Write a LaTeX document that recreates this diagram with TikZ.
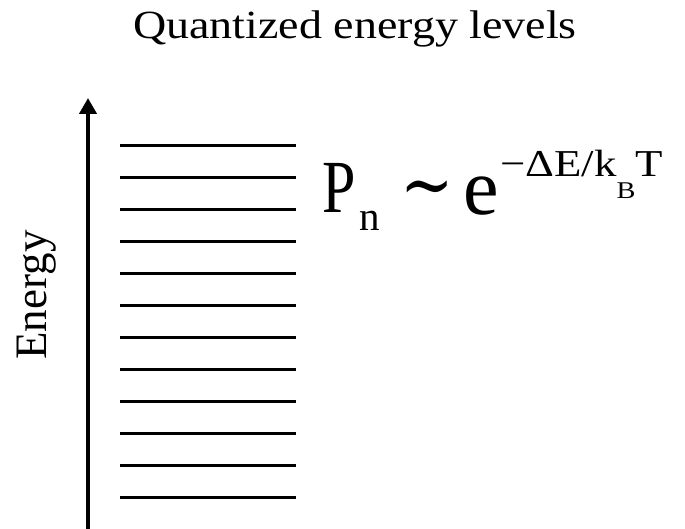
\documentclass[tikz,border=0pt]{standalone}
\usepackage{fontspec}
\setmainfont{Liberation Serif}
\newfontfamily\symfont{DejaVu Serif}
\usetikzlibrary{arrows.meta}
\begin{document}
\begin{tikzpicture}[x=1pt,y=1pt,
  level/.style={line width=3pt},
  big/.style={inner sep=0pt,anchor=base}]
\useasboundingbox (0,0) rectangle (685,529);
\node[big,xscale=1.15,font=\fontsize{40}{40}\selectfont] (title) at (355,490) {Quantized energy levels};
\coordinate (axisfoot) at (88,0);
\coordinate (axistip) at (88,431);
\draw[line width=4pt,-{Triangle[length=16pt,width=17pt]}] (axisfoot)--(axistip);
\node[big,rotate=90,font=\fontsize{45}{45}\selectfont] (energy) at (46,234) {Energy};
\foreach \k in {0,...,11}{
    \draw[level] (120,383-32*\k)--(296,383-32*\k);
}
% occupation probability
\node[big,xscale=0.8,font=\fontsize{75}{75}\selectfont] (P) at (339.5,316) {P};
\node[big,font=\fontsize{41}{41}\selectfont] (n) at (370,298) {n};
\node[inner sep=0pt,xscale=1.1,yscale=1.3,font=\symfont\fontsize{58}{58}\selectfont] (sim) at (427.5,333) {∼};
\node[big,font=\fontsize{80}{80}\selectfont] (e) at (481,314) {e};
\node[big,anchor=base west,xscale=1.18,font=\fontsize{38}{38}\selectfont] (expo) at (500,352) {−ΔE/k\raisebox{-22pt}{\fontsize{24}{24}\selectfont B}T};
\end{tikzpicture}
\end{document}
